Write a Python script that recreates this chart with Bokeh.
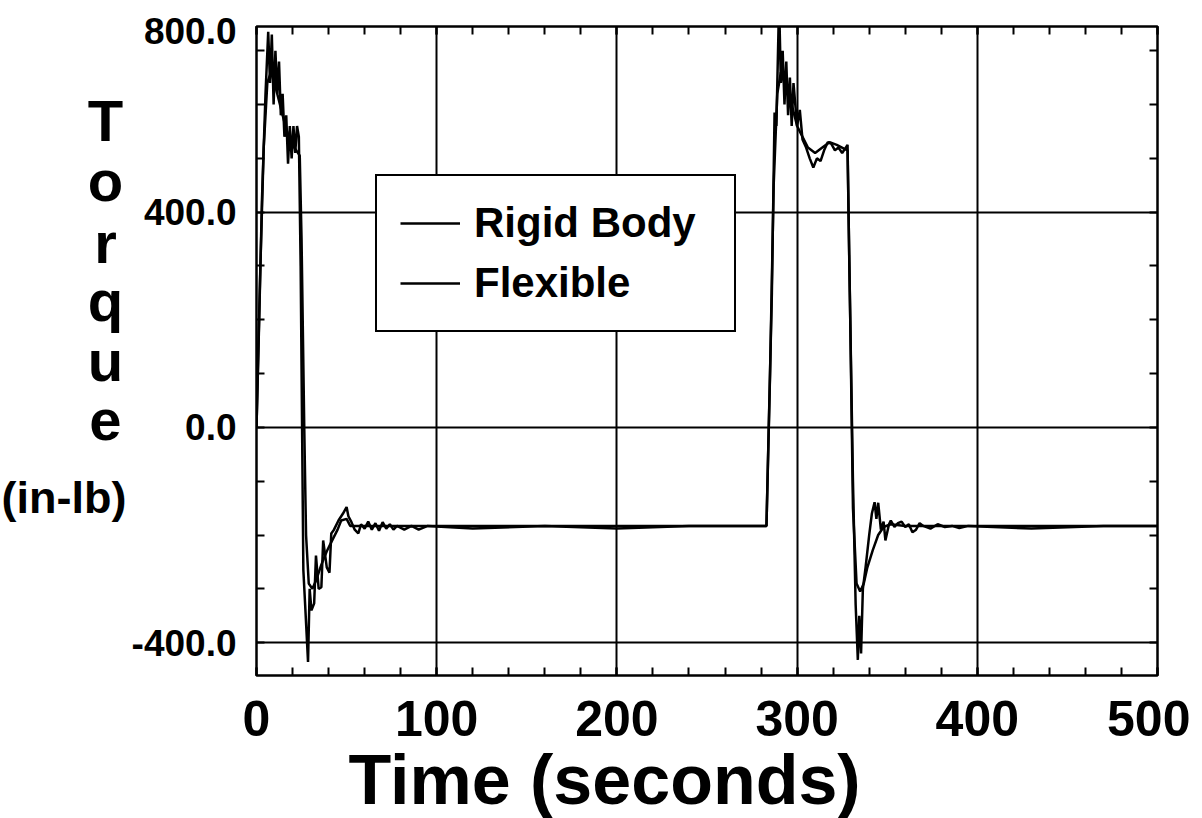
from bokeh.plotting import figure
from bokeh.models import Range1d, FixedTicker, LinearAxis, Legend, LegendItem, Title
from bokeh.layouts import row
from bokeh.core.properties import value
from bokeh.embed import file_html
from bokeh.resources import INLINE

# ---- data ----
rigid_t = [0, 2, 4, 6, 8, 10, 13, 16, 19, 22, 24, 25, 26.5, 27.5, 29, 31, 33, 36, 39, 42, 45, 47, 50, 52, 60,
           283, 285, 287, 289, 291, 294, 297, 300, 303, 306, 310, 314, 318, 322, 326, 328, 329.5, 331, 333, 335,
           337, 339, 342, 345, 348, 352, 360, 500]
rigid_v = [0, 280, 520, 640, 660, 640, 600, 560, 530, 515, 505, 350, 0, -200, -290, -300, -285, -255, -230, -210,
           -190, -173, -170, -183, -183,
           -183, 100, 450, 620, 660, 630, 600, 560, 540, 520, 510, 520, 530, 525, 518, 515, 200, -150, -290, -305,
           -290, -260, -228, -200, -185, -180, -183, -183]

flex_t = [0, 1.5, 3, 5, 6.5, 7.5, 8.5, 9.5, 10.5, 11.5, 12.5, 13.5, 14.5, 15.5, 16.5, 17.5, 18.5, 19.5, 20.5,
          21.5, 22.5, 23.5, 24.5, 26, 27, 28.6, 29.5, 30.5, 32, 33, 34.5, 36, 37, 39, 40.5, 41.5, 43, 45.5, 48,
          50, 51, 52.7, 54.5, 56.5, 58, 60, 62, 64, 66, 68, 70, 72, 74, 76, 78, 82, 86, 90, 95, 120, 160, 200,
          240, 283,
          286, 287.5, 288.5, 290, 291, 292, 293, 294, 295, 296, 297, 298, 299, 300, 301.5, 303, 305, 307, 309,
          311, 313, 315, 317, 319, 321, 323, 325, 327, 328, 329, 331, 332.5, 333.7, 334.5, 335.5, 336.5, 338,
          340, 341.5, 343, 344, 345, 346.5, 348, 349, 351, 352, 354, 356, 358, 360, 362, 364, 366, 368, 370,
          374, 378, 382, 386, 390, 395, 430, 470, 500]
flex_v = [0, 200, 420, 620, 735, 640, 730, 600, 700, 620, 680, 580, 620, 540, 580, 490, 560, 500, 560, 510,
          560, 540, 300, -265, -330, -436, -300, -340, -327, -238, -300, -297, -210, -260, -270, -197, -190,
          -173, -160, -148, -165, -176, -190, -197, -180, -188, -175, -190, -178, -192, -176, -188, -180, -190,
          -183, -190, -183, -190, -183, -188, -183, -188, -183, -183,
          250, 585, 560, 790, 640, 700, 600, 680, 580, 650, 560, 640, 600, 560, 590, 535, 520, 500, 483, 500,
          495, 515, 530, 527, 515, 520, 510, 520, 525, 300, -100, -330, -432, -350, -420, -300, -260, -200,
          -160, -139, -170, -140, -190, -175, -210, -180, -173, -185, -178, -175, -185, -180, -195, -190, -178,
          -183, -188, -180, -185, -183, -187, -183, -188, -183, -183]

series_names = ["Rigid Body", "Flexible"]

x_ticks = [0, 100, 200, 300, 400, 500]
x_minor = list(range(0, 501, 20))
y_top = 745
y_bottom = -461
y_grid_ticks = [-400, 0, 400]
y_ticks = [-400, 0, 400, 736]
y_tick_labels = ["-400.0", "0.0", "400.0", "800.0"]
y_minor = list(range(-400, 701, 100))

x_title = "Time (seconds)"
y_title_letters = ["T", "o", "r", "q", "u", "e"]
y_title_units = ["(in-lb)"]

FONT = "Liberation Sans"
H = 818
TITLE_W = 127
FRAME_TOP = 26
FRAME_BOTTOM = 675

# ---- left title panel (stacked "Torque" and units), same vertical frame as the chart ----
tf = figure(width=TITLE_W, height=H, output_backend="svg", toolbar_location=None,
            x_range=Range1d(0, TITLE_W), y_range=Range1d(y_bottom, y_top),
            x_axis_location=None, y_axis_location=None,
            min_border_left=0, min_border_right=0,
            min_border_top=FRAME_TOP, min_border_bottom=H - FRAME_BOTTOM)
tf.grid.visible = False
tf.outline_line_color = None
tf.background_fill_color = "white"
tf.border_fill_color = "white"
tf.text(x=[105] * len(y_title_letters), y=[570, 459, 343, 236, 124, 13], text=y_title_letters,
        text_font=value(FONT), text_font_style="bold", text_font_size="58px",
        text_align="center", text_baseline="alphabetic", text_color="black")
tf.text(x=[TITLE_W / 2], y=[-130], text=y_title_units,
        text_font=value(FONT), text_font_style="bold", text_font_size="45px",
        text_align="center", text_baseline="middle", text_color="black")

# ---- main chart ----
p = figure(width=1190 - TITLE_W, height=H, output_backend="svg", toolbar_location=None,
           x_range=Range1d(0, 500), y_range=Range1d(y_bottom, y_top),
           min_border_left=256 - TITLE_W, min_border_right=33, min_border_top=FRAME_TOP,
           min_border_bottom=H - FRAME_BOTTOM)
p.background_fill_color = "white"
p.border_fill_color = "white"
p.outline_line_color = "black"
p.outline_line_alpha = 1
p.outline_line_width = 2.5

r1 = p.line(rigid_t, rigid_v, line_color="black", line_width=2.5)
r2 = p.line(flex_t, flex_v, line_color="black", line_width=2.5)

xt = FixedTicker(ticks=x_ticks, minor_ticks=x_minor)
yt = FixedTicker(ticks=y_ticks, minor_ticks=y_minor)

def style_axis(ax, major_in=8):
    ax.axis_line_color = None
    ax.major_tick_in = major_in
    ax.major_tick_out = 0
    ax.minor_tick_in = 8
    ax.minor_tick_out = 0
    ax.major_tick_line_color = "black"
    ax.minor_tick_line_color = "black"
    ax.major_tick_line_width = 2
    ax.minor_tick_line_width = 2

def hide_labels(ax, ticks):
    ax.major_label_overrides = {t: "" for t in ticks}
    ax.major_label_standoff = 0
    ax.major_label_text_font_size = "1px"

xa = p.xaxis[0]
xa.ticker = xt
style_axis(xa)
xa.major_label_text_font = FONT
xa.major_label_text_font_style = "bold"
xa.major_label_text_font_size = "50px"
xa.major_label_text_color = "black"
xa.major_label_standoff = 25

ya = p.yaxis[0]
ya.ticker = yt
style_axis(ya, major_in=0)
ya.major_label_overrides = {t: l for t, l in zip(y_ticks, y_tick_labels)}
ya.major_label_text_font = FONT
ya.major_label_text_font_style = "bold"
ya.major_label_text_font_size = "37px"
ya.major_label_text_color = "black"
ya.major_label_standoff = 20

top_ax = LinearAxis(ticker=FixedTicker(ticks=x_ticks, minor_ticks=x_minor))
style_axis(top_ax)
hide_labels(top_ax, x_ticks)
p.add_layout(top_ax, "above")
right_ax = LinearAxis(ticker=FixedTicker(ticks=y_ticks, minor_ticks=y_minor))
style_axis(right_ax, major_in=0)
hide_labels(right_ax, y_ticks)
p.add_layout(right_ax, "right")

xtitle = Title(text=x_title, align="left", offset=92, standoff=0,
               text_font=FONT, text_font_style="bold", text_font_size="70px", text_color="black")
p.add_layout(xtitle, "below")

p.xgrid.ticker = FixedTicker(ticks=x_ticks)
p.ygrid.ticker = FixedTicker(ticks=y_grid_ticks)
for g in (p.xgrid[0], p.ygrid[0]):
    g.grid_line_color = "black"
    g.grid_line_width = 2
    g.grid_line_alpha = 1

legend = Legend(items=[LegendItem(label=series_names[0], renderers=[r1]),
                       LegendItem(label=series_names[1], renderers=[r2])],
                location=(119, 343), orientation="vertical")
legend.border_line_color = "black"
legend.border_line_alpha = 1
legend.border_line_width = 2.5
legend.background_fill_color = "white"
legend.background_fill_alpha = 1
legend.padding = 23
legend.spacing = 12
legend.margin = 0
legend.glyph_width = 60
legend.glyph_height = 40
legend.label_standoff = 14
legend.label_width = 237
legend.label_height = 42
legend.label_text_font = FONT
legend.label_text_font_style = "bold"
legend.label_text_font_size = "42px"
legend.label_text_color = "black"
p.add_layout(legend)

layout = row(tf, p)
open("out.html", "w").write(file_html(layout, INLINE))
